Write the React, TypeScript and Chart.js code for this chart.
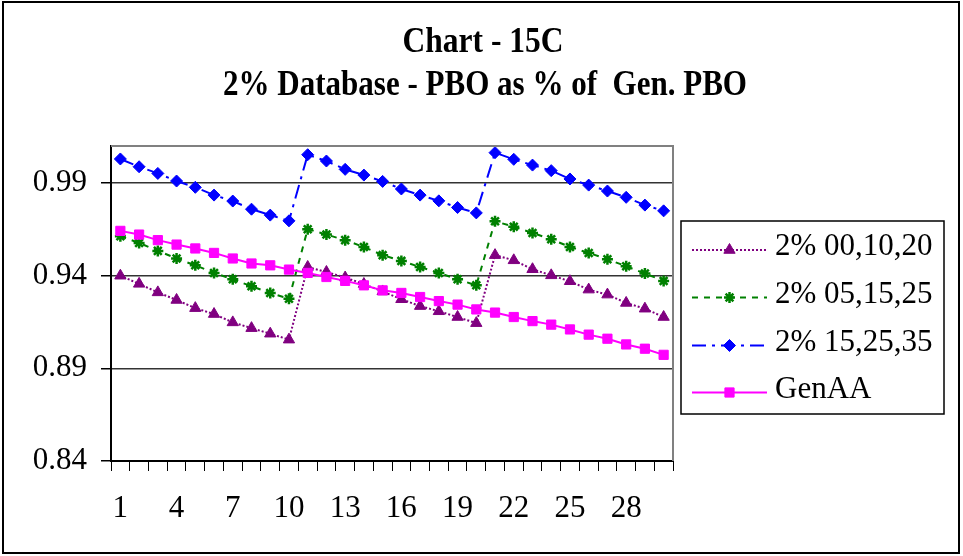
import React, { useEffect, useRef } from 'react';
import { Chart, registerables } from 'chart.js';
import { drawPoint } from 'chart.js/helpers';

Chart.register(...registerables);

// Years since start of projection
const CATEGORIES = [
  '1', '2', '3', '4', '5', '6', '7', '8', '9', '10',
  '11', '12', '13', '14', '15', '16', '17', '18', '19', '20',
  '21', '22', '23', '24', '25', '26', '27', '28', '29', '30',
];
const X_TICK_LABELS = ['1', '4', '7', '10', '13', '16', '19', '22', '25', '28'];

const SERIES_00_10_20 = [
  0.9400, 0.9356, 0.9310, 0.9269, 0.9225, 0.9193, 0.9148, 0.9117, 0.9087, 0.9055,
  0.9447, 0.9420, 0.9390, 0.9355, 0.9315, 0.9273, 0.9236, 0.9208, 0.9177, 0.9144,
  0.9511, 0.9483, 0.9435, 0.9402, 0.9370, 0.9325, 0.9298, 0.9253, 0.9222, 0.9177,
];
const SERIES_05_15_25 = [
  0.9613, 0.9577, 0.9534, 0.9493, 0.9456, 0.9415, 0.9381, 0.9343, 0.9307, 0.9276,
  0.9651, 0.9622, 0.9592, 0.9555, 0.9511, 0.9480, 0.9447, 0.9415, 0.9381, 0.9348,
  0.9694, 0.9664, 0.9631, 0.9597, 0.9555, 0.9523, 0.9489, 0.9451, 0.9412, 0.9372,
];
const SERIES_15_25_35 = [
  1.0030, 0.9988, 0.9952, 0.9911, 0.9877, 0.9835, 0.9803, 0.9759, 0.9727, 0.9696,
  1.0053, 1.0019, 0.9974, 0.9943, 0.9909, 0.9868, 0.9835, 0.9804, 0.9768, 0.9739,
  1.0064, 1.0028, 0.9997, 0.9967, 0.9922, 0.9889, 0.9857, 0.9823, 0.9781, 0.9750,
];
const SERIES_GEN_AA = [
  0.9642, 0.9622, 0.9592, 0.9568, 0.9547, 0.9523, 0.9493, 0.9466, 0.9456, 0.9433,
  0.9415, 0.9393, 0.9372, 0.9348, 0.9321, 0.9307, 0.9285, 0.9263, 0.9244, 0.9218,
  0.9201, 0.9177, 0.9155, 0.9136, 0.9110, 0.9082, 0.9060, 0.9029, 0.9006, 0.8973,
];

const Y_MIN = 0.84;
const Y_MAX = 1.01;
const Y_TICKS = [0.84, 0.89, 0.94, 0.99];

const TITLE_LINES = ['Chart - 15C', '2% Database - PBO as % of  Gen. PBO'];
const LEGEND_LABELS = ['2% 00,10,20', '2% 05,15,25', '2% 15,25,35', 'GenAA'];

const SERIF = '"Liberation Serif", "Times New Roman", serif';

const WIDTH = 963;
const HEIGHT = 556;

// Outer frame, two-line condensed title, plot frame and the boxed legend
const decorPlugin = {
  id: 'decor',
  beforeDraw(chart: any) {
    const ctx = chart.ctx;
    ctx.save();
    ctx.fillStyle = '#ffffff';
    ctx.fillRect(0, 0, chart.width, chart.height);
    ctx.restore();
  },
  afterDraw(chart: any) {
    const ctx = chart.ctx;
    const area = chart.chartArea;
    ctx.save();

    // plot frame (top & right edges)
    ctx.strokeStyle = '#808080';
    ctx.lineWidth = 2;
    ctx.beginPath();
    ctx.moveTo(area.left, area.top);
    ctx.lineTo(area.right, area.top);
    ctx.lineTo(area.right, area.bottom);
    ctx.stroke();

    // outer frame
    ctx.strokeStyle = '#000000';
    ctx.lineWidth = 2;
    ctx.strokeRect(3, 2, 956, 551);

    // title
    ctx.fillStyle = '#000000';
    ctx.font = `bold 35px ${SERIF}`;
    ctx.textAlign = 'center';
    ctx.textBaseline = 'alphabetic';
    const titles = [
      { text: TITLE_LINES[0], cx: 483, base: 52, width: 161 },
      { text: TITLE_LINES[1], cx: 485, base: 95, width: 524 },
    ];
    titles.forEach((t) => {
      const w = ctx.measureText(t.text).width;
      const sx = t.width / w;
      ctx.save();
      ctx.translate(t.cx, t.base);
      ctx.scale(sx, 1);
      ctx.fillText(t.text, 0, 0);
      ctx.restore();
    });

    // legend
    const box = { x: 681, y: 221, w: 263, h: 193 };
    ctx.strokeStyle = '#000000';
    ctx.lineWidth = 1.5;
    ctx.strokeRect(box.x, box.y, box.w, box.h);

    const rowY = [250, 297.5, 345.5, 392.5];
    const lineX0 = 692;
    const lineX1 = 767;
    ctx.font = `31px ${SERIF}`;
    ctx.textAlign = 'left';
    chart.data.datasets.forEach((ds: any, i: number) => {
      const y = rowY[i];
      ctx.save();
      ctx.strokeStyle = ds.borderColor;
      ctx.lineWidth = ds.borderWidth;
      ctx.setLineDash(ds.borderDash || []);
      ctx.beginPath();
      ctx.moveTo(lineX0, y);
      ctx.lineTo(lineX1, y);
      ctx.stroke();
      ctx.setLineDash([]);
      ctx.fillStyle = ds.pointBackgroundColor;
      ctx.strokeStyle = ds.pointBorderColor;
      ctx.lineWidth = ds.pointBorderWidth;
      drawPoint(
        ctx,
        {
          pointStyle: ds.pointStyle,
          radius: ds.pointRadius,
          rotation: 0,
          borderWidth: ds.pointBorderWidth,
        } as any,
        (lineX0 + lineX1) / 2,
        y
      );
      ctx.restore();
      ctx.fillStyle = '#000000';
      ctx.fillText(LEGEND_LABELS[i], 775, y + 5);
    });

    ctx.restore();
  },
};

export default function App() {
  const canvasRef = useRef<HTMLCanvasElement | null>(null);

  useEffect(() => {
    document.body.style.margin = '0';
    const canvas = canvasRef.current;
    if (!canvas) return;

    const chart = new Chart(canvas, {
      type: 'line',
      data: {
        labels: CATEGORIES,
        datasets: [
          {
            label: LEGEND_LABELS[0],
            data: SERIES_00_10_20,
            borderColor: '#800080',
            borderWidth: 2,
            borderDash: [2, 2],
            pointStyle: 'triangle',
            pointRadius: 6.5,
            pointBackgroundColor: '#800080',
            pointBorderColor: '#800080',
            pointBorderWidth: 1,
            order: 4,
          },
          {
            label: LEGEND_LABELS[1],
            data: SERIES_05_15_25,
            borderColor: '#008000',
            borderWidth: 2,
            borderDash: [6, 6],
            pointStyle: 'star',
            pointRadius: 5.5,
            pointBackgroundColor: '#008000',
            pointBorderColor: '#008000',
            pointBorderWidth: 2.5,
            order: 3,
          },
          {
            label: LEGEND_LABELS[2],
            data: SERIES_15_25_35,
            borderColor: '#0000FF',
            borderWidth: 2,
            borderDash: [14, 6, 3, 6],
            pointStyle: 'rectRot',
            pointRadius: 6,
            pointBackgroundColor: '#0000FF',
            pointBorderColor: '#0000FF',
            pointBorderWidth: 1,
            order: 2,
          },
          {
            label: LEGEND_LABELS[3],
            data: SERIES_GEN_AA,
            borderColor: '#FF00FF',
            borderWidth: 2,
            borderDash: [],
            pointStyle: 'rect',
            pointRadius: 6.5,
            pointBackgroundColor: '#FF00FF',
            pointBorderColor: '#FF00FF',
            pointBorderWidth: 1,
            order: 1,
          },
        ] as any,
      },
      options: {
        responsive: false,
        animation: false,
        devicePixelRatio: 1,
        layout: { padding: { top: 146, right: 290, bottom: 0, left: 0 } },
        plugins: {
          legend: { display: false },
          title: { display: false },
          tooltip: { enabled: false },
        },
        elements: { line: { tension: 0 } },
        scales: {
          x: {
            type: 'category',
            offset: true,
            grid: {
              display: true,
              drawOnChartArea: false,
              drawTicks: true,
              tickLength: 10,
              offset: true,
              color: '#000000',
              tickColor: '#000000',
              lineWidth: 1,
            },
            border: { display: true, color: '#000000', width: 2 },
            ticks: {
              autoSkip: false,
              maxRotation: 0,
              minRotation: 0,
              padding: 19,
              color: '#000000',
              font: { family: SERIF, size: 31 },
              callback: (_v: any, i: number) =>
                X_TICK_LABELS.includes(CATEGORIES[i]) ? CATEGORIES[i] : '',
            },
            afterFit: (scale: any) => {
              scale.height = 95;
            },
          },
          y: {
            type: 'linear',
            min: Y_MIN,
            max: Y_MAX,
            grid: {
              color: '#333333',
              tickColor: '#000000',
              lineWidth: 1.5,
              tickLength: 10,
            },
            border: { display: true, color: '#000000', width: 2 },
            ticks: {
              padding: 14,
              color: '#000000',
              font: { family: SERIF, size: 31 },
              callback: (v: any) => Number(v).toFixed(2),
            },
            afterBuildTicks: (scale: any) => {
              scale.ticks = Y_TICKS.map((value) => ({ value }));
            },
            afterFit: (scale: any) => {
              scale.width = 111;
            },
          },
        },
      } as any,
      plugins: [decorPlugin],
    });

    return () => {
      chart.destroy();
    };
  }, []);

  return (
    <div style={{ position: 'absolute', left: 0, top: 0, width: WIDTH, height: HEIGHT }}>
      <canvas ref={canvasRef} width={WIDTH} height={HEIGHT} />
    </div>
  );
}
